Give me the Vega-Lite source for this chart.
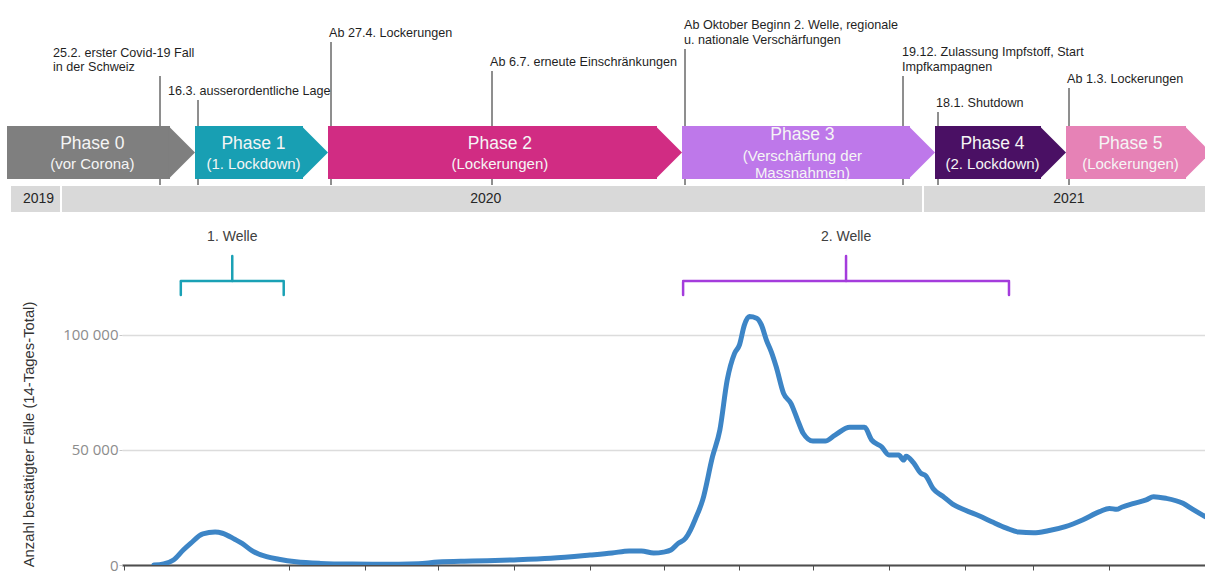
{
 "$schema": "https://vega.github.io/schema/vega-lite/v6.json",
 "width": 1083,
 "height": 565,
 "padding": {"left": 122, "top": 0, "right": 0, "bottom": 7},
 "autosize": {"type": "none"},
 "background": "white",
 "config": {"view": {"stroke": null}, "font": "Liberation Sans"},
 "datasets": {
  "cases": [
   {"date": "2020-03-07", "cases": 0},
   {"date": "2020-03-11", "cases": 500},
   {"date": "2020-03-15", "cases": 2200},
   {"date": "2020-03-19", "cases": 6500},
   {"date": "2020-03-22", "cases": 9400},
   {"date": "2020-03-27", "cases": 13500},
   {"date": "2020-04-01", "cases": 14300},
   {"date": "2020-04-04", "cases": 13800},
   {"date": "2020-04-09", "cases": 11200},
   {"date": "2020-04-12", "cases": 9400},
   {"date": "2020-04-16", "cases": 6200},
   {"date": "2020-04-22", "cases": 3600},
   {"date": "2020-04-27", "cases": 2500},
   {"date": "2020-05-04", "cases": 1400},
   {"date": "2020-05-14", "cases": 700},
   {"date": "2020-05-27", "cases": 400},
   {"date": "2020-06-15", "cases": 300},
   {"date": "2020-06-23", "cases": 500},
   {"date": "2020-07-01", "cases": 1300},
   {"date": "2020-07-15", "cases": 1700},
   {"date": "2020-08-01", "cases": 2200},
   {"date": "2020-08-16", "cases": 2900},
   {"date": "2020-09-01", "cases": 4300},
   {"date": "2020-09-10", "cases": 5200},
   {"date": "2020-09-17", "cases": 6100},
   {"date": "2020-09-22", "cases": 6100},
   {"date": "2020-09-27", "cases": 5200},
   {"date": "2020-10-01", "cases": 5600},
   {"date": "2020-10-04", "cases": 6500},
   {"date": "2020-10-07", "cases": 9400},
   {"date": "2020-10-10", "cases": 11600},
   {"date": "2020-10-12", "cases": 15200},
   {"date": "2020-10-14", "cases": 20000},
   {"date": "2020-10-17", "cases": 28300},
   {"date": "2020-10-21", "cases": 47100},
   {"date": "2020-10-24", "cases": 58700},
   {"date": "2020-10-27", "cases": 80400},
   {"date": "2020-10-30", "cases": 92000},
   {"date": "2020-11-01", "cases": 95700},
   {"date": "2020-11-03", "cases": 104300},
   {"date": "2020-11-05", "cases": 108000},
   {"date": "2020-11-08", "cases": 107300},
   {"date": "2020-11-10", "cases": 104300},
   {"date": "2020-11-12", "cases": 97800},
   {"date": "2020-11-14", "cases": 92700},
   {"date": "2020-11-16", "cases": 86200},
   {"date": "2020-11-19", "cases": 74600},
   {"date": "2020-11-22", "cases": 70300},
   {"date": "2020-11-25", "cases": 62300},
   {"date": "2020-11-27", "cases": 57300},
   {"date": "2020-12-01", "cases": 53900},
   {"date": "2020-12-06", "cases": 53900},
   {"date": "2020-12-10", "cases": 56500},
   {"date": "2020-12-16", "cases": 59900},
   {"date": "2020-12-22", "cases": 59900},
   {"date": "2020-12-25", "cases": 54300},
   {"date": "2020-12-29", "cases": 51400},
   {"date": "2021-01-01", "cases": 47800},
   {"date": "2021-01-05", "cases": 47800},
   {"date": "2021-01-07", "cases": 45600},
   {"date": "2021-01-08", "cases": 47300},
   {"date": "2021-01-11", "cases": 44500},
   {"date": "2021-01-14", "cases": 39900},
   {"date": "2021-01-16", "cases": 38800},
   {"date": "2021-01-19", "cases": 33300},
   {"date": "2021-01-23", "cases": 29900},
   {"date": "2021-01-27", "cases": 26500},
   {"date": "2021-02-01", "cases": 23900},
   {"date": "2021-02-07", "cases": 21300},
   {"date": "2021-02-12", "cases": 18800},
   {"date": "2021-02-18", "cases": 16000},
   {"date": "2021-02-23", "cases": 14300},
   {"date": "2021-03-01", "cases": 14000},
   {"date": "2021-03-07", "cases": 14900},
   {"date": "2021-03-14", "cases": 16700},
   {"date": "2021-03-21", "cases": 19600},
   {"date": "2021-03-28", "cases": 23200},
   {"date": "2021-04-01", "cases": 24600},
   {"date": "2021-04-04", "cases": 24200},
   {"date": "2021-04-06", "cases": 25100},
   {"date": "2021-04-11", "cases": 26800},
   {"date": "2021-04-16", "cases": 28300},
   {"date": "2021-04-19", "cases": 29700},
   {"date": "2021-04-24", "cases": 29000},
   {"date": "2021-05-01", "cases": 26800},
   {"date": "2021-05-05", "cases": 24200},
   {"date": "2021-05-09", "cases": 21700},
   {"date": "2021-05-12", "cases": 20000}
  ],
  "waves": [
   {"wave": "1. Welle", "start": "2020-03-18", "end": "2020-04-29"},
   {"wave": "2. Welle", "start": "2020-10-09", "end": "2021-02-19"}
  ],
  "events": [
   {"id": "25.2.", "date": "2020-02-25", "label": "25.2. erster Covid-19 Fall\nin der Schweiz", "tier": 4},
   {"id": "16.3.", "date": "2020-03-16", "label": "16.3. ausserordentliche Lage", "tier": 6},
   {"id": "27.4.", "date": "2020-04-27", "label": "Ab 27.4. Lockerungen", "tier": 1},
   {"id": "6.7.", "date": "2020-07-06", "label": "Ab 6.7. erneute Einschränkungen", "tier": 3},
   {"id": "1.10.", "date": "2020-10-01", "label": "Ab Oktober Beginn 2. Welle, regionale\nu. nationale Verschärfungen", "tier": 2},
   {"id": "19.12.", "date": "2020-12-19", "label": "19.12. Zulassung Impfstoff, Start\nImpfkampagnen", "tier": 4},
   {"id": "18.1.", "date": "2021-01-18", "label": "18.1. Shutdown", "tier": 7},
   {"id": "1.3.", "date": "2021-03-01", "label": "Ab 1.3. Lockerungen", "tier": 5}
  ],
  "phases": [
   {"phase": "Phase 0", "sub": "(vor Corona)", "start": "2019-12-04", "end": "2020-03-16"},
   {"phase": "Phase 1", "sub": "(1. Lockdown)", "start": "2020-03-16", "end": "2020-04-27"},
   {"phase": "Phase 2", "sub": "(Lockerungen)", "start": "2020-04-27", "end": "2020-10-01"},
   {"phase": "Phase 3", "sub": "(Verschärfung der\nMassnahmen)", "start": "2020-10-01", "end": "2021-01-18"},
   {"phase": "Phase 4", "sub": "(2. Lockdown)", "start": "2021-01-18", "end": "2021-03-01"},
   {"phase": "Phase 5", "sub": "(Lockerungen)", "start": "2021-03-01", "end": "2021-04-15"}
  ],
  "years": [
   {"year": "2019", "start": "2019-12-04", "end": "2020-01-01"},
   {"year": "2020", "start": "2020-01-01", "end": "2021-01-01"},
   {"year": "2021", "start": "2021-01-01", "end": "2021-04-27"}
  ]
 },
 "layer": [
  {
   "data": {"name": "cases"},
   "mark": {"type": "line", "color": "#3d85c6", "strokeWidth": 5, "interpolate": "monotone", "clip": true, "strokeCap": "round", "strokeJoin": "round"},
   "encoding": {
    "x": {
     "field": "date", "type": "temporal",
     "scale": {"type": "utc", "nice": false, "domain": [{"year": 2020, "month": 2, "date": 23, "utc": true}, {"year": 2021, "month": 5, "date": 10, "utc": true}]},
     "axis": {
      "title": null, "labels": false, "grid": false,
      "domainColor": "#4d4d4d", "domainWidth": 2, "tickColor": "#4d4d4d", "tickSize": 5, "tickWidth": 1,
      "values": [
       {"year": 2020, "month": 2, "date": 24, "utc": true},
       {"year": 2020, "month": 5, "date": 1, "utc": true},
       {"year": 2020, "month": 6, "date": 1, "utc": true},
       {"year": 2020, "month": 7, "date": 1, "utc": true},
       {"year": 2020, "month": 8, "date": 1, "utc": true},
       {"year": 2020, "month": 9, "date": 1, "utc": true},
       {"year": 2020, "month": 10, "date": 1, "utc": true},
       {"year": 2020, "month": 11, "date": 1, "utc": true},
       {"year": 2020, "month": 12, "date": 1, "utc": true},
       {"year": 2021, "month": 1, "date": 1, "utc": true},
       {"year": 2021, "month": 2, "date": 1, "utc": true},
       {"year": 2021, "month": 3, "date": 1, "utc": true},
       {"year": 2021, "month": 4, "date": 1, "utc": true}
      ]
     }
    },
    "y": {
     "field": "cases", "type": "quantitative",
     "scale": {"domain": [0, 245652], "nice": false, "zero": true},
     "axis": {
      "title": "Anzahl bestätigter Fälle (14-Tages-Total)",
      "titleFont": "Liberation Sans", "titleFontSize": 14.8, "titleFontWeight": "normal", "titleColor": "#333333",
      "titleX": -93, "titleY": 434, "titleAngle": -90, "titleAlign": "center", "titleBaseline": "middle",
      "values": [0, 50000, 100000],
      "labelExpr": "replace(format(datum.value, ','), ',', ' ')",
      "labelFont": "Open Sans", "labelFontSize": 15, "labelColor": "#8c8c8c", "labelPadding": 1,
      "tickSize": 3, "tickColor": "#c8c8c8", "domain": false,
      "grid": true, "gridColor": "#dcdcdc", "gridWidth": 1.5
     }
    }
   }
  },
  {
   "data": {"name": "waves"},
   "transform": [{"calculate": "(time(datum.start) + time(datum.end)) / 2", "as": "mid"}],
   "layer": [
    {
     "mark": {"type": "rule", "strokeWidth": 2.5, "strokeCap": "round"},
     "encoding": {
      "x": {"field": "start", "type": "temporal", "axis": null,
       "scale": {"type": "utc", "nice": false, "domain": [{"year": 2020, "month": 2, "date": 23, "utc": true}, {"year": 2021, "month": 5, "date": 10, "utc": true}]}},
      "x2": {"field": "end"},
      "y": {"datum": 281, "type": "quantitative", "axis": null, "scale": {"domain": [0, 572], "range": [0, 572], "nice": false, "zero": false}},
      "color": {"field": "wave", "type": "nominal", "legend": null, "scale": {"domain": ["1. Welle", "2. Welle"], "range": ["#1aa1b5", "#a43cdc"]}}
     }
    },
    {
     "mark": {"type": "rule", "strokeWidth": 2.5, "strokeCap": "round"},
     "encoding": {
      "x": {"field": "start", "type": "temporal", "axis": null},
      "y": {"datum": 282, "type": "quantitative", "axis": null},
      "y2": {"datum": 295},
      "color": {"field": "wave", "type": "nominal", "legend": null}
     }
    },
    {
     "mark": {"type": "rule", "strokeWidth": 2.5, "strokeCap": "round"},
     "encoding": {
      "x": {"field": "end", "type": "temporal", "axis": null},
      "y": {"datum": 282, "type": "quantitative", "axis": null},
      "y2": {"datum": 295},
      "color": {"field": "wave", "type": "nominal", "legend": null}
     }
    },
    {
     "mark": {"type": "rule", "strokeWidth": 2.5, "strokeCap": "round"},
     "encoding": {
      "x": {"field": "mid", "type": "temporal", "axis": null},
      "y": {"datum": 256, "type": "quantitative", "axis": null},
      "y2": {"datum": 281},
      "color": {"field": "wave", "type": "nominal", "legend": null}
     }
    },
    {
     "mark": {"type": "text", "fontSize": 14, "baseline": "middle", "align": "center", "font": "Liberation Sans"},
     "encoding": {
      "x": {"field": "mid", "type": "temporal", "axis": null},
      "y": {"datum": 237, "type": "quantitative", "axis": null},
      "text": {"field": "wave"},
      "color": {"value": "#404040"}
     }
    }
   ]
  },
  {
   "data": {"name": "events"},
   "transform": [{"calculate": "time(datum.date)", "as": "t"}],
   "layer": [
    {
     "mark": {"type": "rule", "color": "#1f1f1f", "strokeWidth": 1, "yOffset": 5},
     "encoding": {
      "x": {"field": "t", "type": "quantitative", "axis": null,
       "scale": {"type": "linear", "nice": false, "zero": false,
        "domain": [1575417600000, 1577836800000, 1582588800000, 1584316800000, 1587945600000, 1593993600000, 1601510400000, 1608336000000, 1609459200000, 1610928000000, 1614556800000, 1618444800000],
        "range": [-112, -61, 38, 76, 209, 370, 563, 781, 801, 816, 947, 1092]}},
      "y": {"field": "tier", "type": "quantitative", "axis": null,
       "scale": {"domain": [1, 2, 3, 4, 5, 6, 7, 8], "range": [37, 44, 66, 71, 83, 95, 107, 185], "nice": false, "zero": false}},
      "y2": {"datum": 8}
     }
    },
    {
     "transform": [{"filter": {"field": "id", "oneOf": ["27.4.", "6.7.", "18.1.", "1.3."]}}],
     "mark": {"type": "text", "fontSize": 12.6, "align": "left", "baseline": "alphabetic", "color": "#1f1f1f", "dx": -2, "lineBreak": "\n", "lineHeight": 15},
     "encoding": {
      "x": {"field": "t", "type": "quantitative", "axis": null},
      "y": {"field": "tier", "type": "quantitative", "axis": null},
      "text": {"field": "label"}
     }
    },
    {
     "transform": [{"filter": {"field": "id", "oneOf": ["1.10.", "19.12."]}}],
     "mark": {"type": "text", "fontSize": 12.6, "align": "left", "baseline": "alphabetic", "color": "#1f1f1f", "dx": -1, "dy": -15, "lineBreak": "\n", "lineHeight": 15},
     "encoding": {
      "x": {"field": "t", "type": "quantitative", "axis": null},
      "y": {"field": "tier", "type": "quantitative", "axis": null},
      "text": {"field": "label"}
     }
    },
    {
     "transform": [{"filter": {"field": "id", "oneOf": ["25.2."]}}],
     "mark": {"type": "text", "fontSize": 12.6, "align": "left", "baseline": "alphabetic", "color": "#1f1f1f", "dx": -107, "dy": -14, "lineBreak": "\n", "lineHeight": 14},
     "encoding": {
      "x": {"field": "t", "type": "quantitative", "axis": null},
      "y": {"field": "tier", "type": "quantitative", "axis": null},
      "text": {"field": "label"}
     }
    },
    {
     "transform": [{"filter": {"field": "id", "oneOf": ["16.3."]}}],
     "mark": {"type": "text", "fontSize": 12.6, "align": "left", "baseline": "alphabetic", "color": "#1f1f1f", "dx": -30},
     "encoding": {
      "x": {"field": "t", "type": "quantitative", "axis": null},
      "y": {"field": "tier", "type": "quantitative", "axis": null},
      "text": {"field": "label"}
     }
    }
   ]
  },
  {
   "layer": [
    {
     "data": {"name": "phases"},
     "transform": [{"calculate": "time(datum.start)", "as": "ts"}, {"calculate": "time(datum.end)", "as": "te"}],
     "mark": {"type": "rect", "xOffset": -3, "x2Offset": -28},
     "encoding": {
      "x": {"field": "ts", "type": "quantitative", "axis": null,
       "scale": {"type": "linear", "nice": false, "zero": false,
        "domain": [1575417600000, 1577836800000, 1582588800000, 1584316800000, 1587945600000, 1593993600000, 1601510400000, 1608336000000, 1609459200000, 1610928000000, 1614556800000, 1618444800000],
        "range": [-112, -61, 38, 76, 209, 370, 563, 781, 801, 816, 947, 1092]}},
      "x2": {"field": "te"},
      "y": {"datum": 126, "type": "quantitative", "axis": null, "scale": {"domain": [0, 572], "range": [0, 572], "nice": false, "zero": false}},
      "y2": {"datum": 179},
      "color": {"field": "phase", "type": "nominal", "legend": null,
       "scale": {"domain": ["Phase 0", "Phase 1", "Phase 2", "Phase 3", "Phase 4", "Phase 5"],
        "range": ["#7f7f7f", "#189fb3", "#d12c83", "#be78ea", "#4a1064", "#e682b6"]}}
     }
    },
    {
     "data": {"name": "phases"},
     "transform": [{"calculate": "time(datum.end)", "as": "te"}],
     "mark": {"type": "point", "shape": "M-1,-1L0,0L-1,1Z", "size": 2809, "filled": true, "opacity": 1, "strokeWidth": 0, "xOffset": -3},
     "encoding": {
      "x": {"field": "te", "type": "quantitative", "axis": null},
      "y": {"datum": 152.5, "type": "quantitative", "axis": null},
      "color": {"field": "phase", "type": "nominal", "legend": null}
     }
    },
    {
     "data": {"name": "phases"},
     "transform": [{"filter": "datum.phase !== 'Phase 3'"}, {"calculate": "(time(datum.start) + time(datum.end)) / 2", "as": "mid"}],
     "mark": {"type": "text", "fontSize": 17.5, "align": "center", "baseline": "middle", "color": "#f5f5f5", "dx": -11},
     "encoding": {
      "x": {"field": "mid", "type": "quantitative", "axis": null},
      "y": {"datum": 144, "type": "quantitative", "axis": null},
      "text": {"field": "phase"}
     }
    },
    {
     "data": {"name": "phases"},
     "transform": [{"filter": "datum.phase !== 'Phase 3'"}, {"calculate": "(time(datum.start) + time(datum.end)) / 2", "as": "mid"}],
     "mark": {"type": "text", "fontSize": 15, "align": "center", "baseline": "middle", "color": "#f5f5f5", "dx": -11},
     "encoding": {
      "x": {"field": "mid", "type": "quantitative", "axis": null},
      "y": {"datum": 163.5, "type": "quantitative", "axis": null},
      "text": {"field": "sub"}
     }
    },
    {
     "data": {"name": "phases"},
     "transform": [{"filter": "datum.phase === 'Phase 3'"}, {"calculate": "(time(datum.start) + time(datum.end)) / 2", "as": "mid"}],
     "mark": {"type": "text", "fontSize": 17.5, "align": "center", "baseline": "middle", "color": "#f5f5f5", "dx": -33},
     "encoding": {
      "x": {"field": "mid", "type": "quantitative", "axis": null},
      "y": {"datum": 135, "type": "quantitative", "axis": null},
      "text": {"field": "phase"}
     }
    },
    {
     "data": {"name": "phases"},
     "transform": [{"filter": "datum.phase === 'Phase 3'"}, {"calculate": "(time(datum.start) + time(datum.end)) / 2", "as": "mid"}],
     "mark": {"type": "text", "fontSize": 15, "align": "center", "baseline": "alphabetic", "color": "#f5f5f5", "dx": -33, "lineBreak": "\n", "lineHeight": 17},
     "encoding": {
      "x": {"field": "mid", "type": "quantitative", "axis": null},
      "y": {"datum": 160.5, "type": "quantitative", "axis": null},
      "text": {"field": "sub"}
     }
    },
    {
     "data": {"name": "years"},
     "transform": [{"calculate": "time(datum.start)", "as": "ts"}, {"calculate": "time(datum.end)", "as": "te"}],
     "mark": {"type": "rect", "color": "#d9d9d9", "xOffset": 1, "x2Offset": -1},
     "encoding": {
      "x": {"field": "ts", "type": "quantitative", "axis": null},
      "x2": {"field": "te"},
      "y": {"datum": 186, "type": "quantitative", "axis": null},
      "y2": {"datum": 212}
     }
    },
    {
     "data": {"name": "years"},
     "transform": [{"calculate": "(time(datum.start) + time(datum.end)) / 2", "as": "mid"}],
     "mark": {"type": "text", "fontSize": 14, "align": "center", "baseline": "middle", "color": "#262626", "dx": 3},
     "encoding": {
      "x": {"field": "mid", "type": "quantitative", "axis": null},
      "y": {"datum": 199, "type": "quantitative", "axis": null},
      "text": {"field": "year"}
     }
    }
   ]
  }
 ],
 "resolve": {"scale": {"x": "independent", "y": "independent", "color": "independent"}}
}
